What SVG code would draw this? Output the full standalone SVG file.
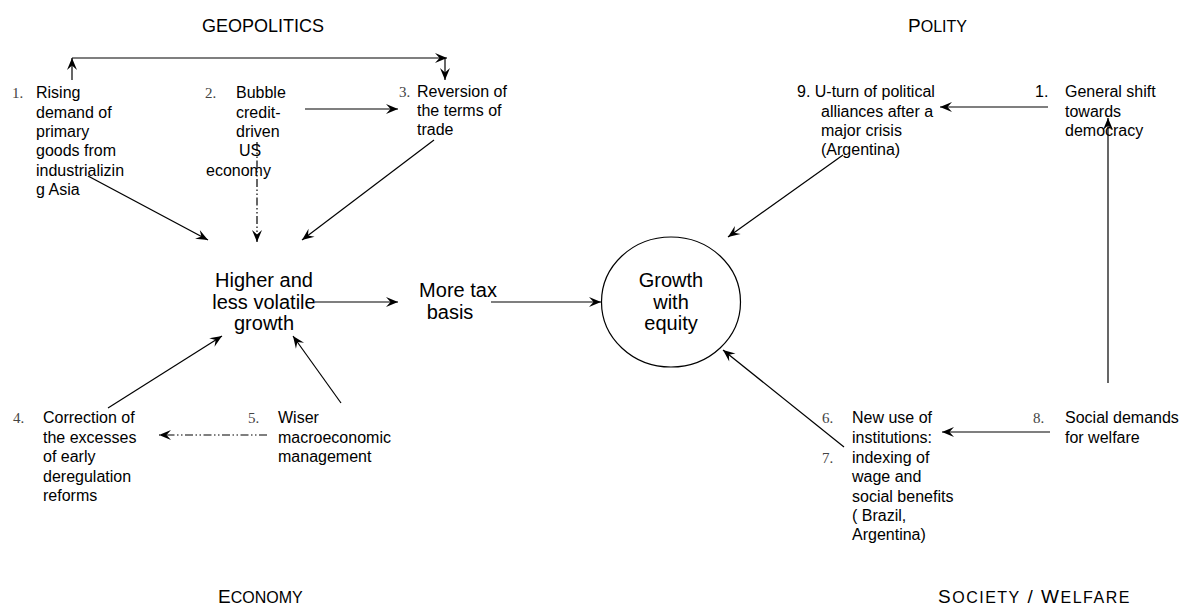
<svg xmlns="http://www.w3.org/2000/svg" width="1186" height="612" viewBox="0 0 1186 612">
  <style>
    .t { font-family: "Liberation Sans", Arial, sans-serif; font-size: 16px; fill: #000; }
    .c { font-family: "Liberation Sans", Arial, sans-serif; font-size: 20px; fill: #000; text-anchor: middle; }
    .n { font-family: "Liberation Serif", "Times New Roman", serif; font-size: 15px; fill: #444; }
    .h { font-family: "Liberation Sans", Arial, sans-serif; font-size: 18px; fill: #000; }
    .hs { font-family: "Liberation Sans", Arial, sans-serif; font-size: 19px; fill: #000; }
    .sc { font-size: 16px; }
    .ln { fill: none; stroke: #000; stroke-width: 1.2; }
    .dd { stroke-dasharray: 8 2.5 1.5 2.5 1.5 2.5; }
  </style>
  <defs>
    <marker id="ah" markerUnits="userSpaceOnUse" markerWidth="14" markerHeight="12" viewBox="-13 -6 14 12" refX="0" refY="0" orient="auto">
      <path d="M0,0 L-12,-5 L-7.5,0 L-12,5 Z" fill="#000"/>
    </marker>
  </defs>
  <rect width="1186" height="612" fill="#fff"/>

  <!-- section headings -->
  <g id="headings">
    <text class="h" x="202" y="32">GEOPOLITICS</text>
    <text class="hs" x="908" y="32">P<tspan class="sc">OLITY</tspan></text>
    <text class="hs" x="218" y="603">E<tspan class="sc">CONOMY</tspan></text>
    <text class="hs" x="938" y="603" letter-spacing="1.5">S<tspan class="sc">OCIETY</tspan> / W<tspan class="sc">ELFARE</tspan></text>
  </g>

  <!-- connectors -->
  <g id="connectors">
    <!-- 1 -> 3 over the top -->
    <path class="ln" d="M72,80 L72,58" marker-end="url(#ah)"/>
    <path class="ln" d="M72,58 L447,58" marker-end="url(#ah)"/>
    <path class="ln" d="M445,58 L445,80" marker-end="url(#ah)"/>
    <!-- 2 -> 3 -->
    <path class="ln" d="M305,109 L398,109" marker-end="url(#ah)"/>
    <!-- into growth -->
    <path class="ln" d="M88,176 L208,240" marker-end="url(#ah)"/>
    <path class="ln dd" d="M257,142 L257,242" marker-end="url(#ah)"/>
    <path class="ln" d="M434,140 L302,240" marker-end="url(#ah)"/>
    <path class="ln" d="M108,408 L222,336" marker-end="url(#ah)"/>
    <path class="ln" d="M341,403 L293,336" marker-end="url(#ah)"/>
    <!-- 5 -> 4 -->
    <path class="ln dd" d="M267,435 L159,435" marker-end="url(#ah)"/>
    <!-- growth -> tax -> equity -->
    <path class="ln" d="M315,302 L398,302" marker-end="url(#ah)"/>
    <path class="ln" d="M491,302 L601,302" marker-end="url(#ah)"/>
    <!-- polity side -->
    <path class="ln" d="M1048,107 L940,107" marker-end="url(#ah)"/>
    <path class="ln" d="M843,155 L728,237" marker-end="url(#ah)"/>
    <path class="ln" d="M1108,383 L1108,118" marker-end="url(#ah)"/>
    <!-- society side -->
    <path class="ln" d="M1050,432 L942,432" marker-end="url(#ah)"/>
    <path class="ln" d="M844,447 L723,350" marker-end="url(#ah)"/>
  </g>

  <g id="n1">
    <text class="n" x="12" y="98">1.</text>
    <text class="t" x="36" y="98">Rising</text>
    <text class="t" x="36" y="118">demand of</text>
    <text class="t" x="36" y="137">primary</text>
    <text class="t" x="36" y="156">goods from</text>
    <text class="t" x="36" y="176">industrializin</text>
    <text class="t" x="36" y="195">g Asia</text>
  </g>
  <g id="n2">
    <text class="n" x="205" y="98">2.</text>
    <text class="t" x="236" y="98">Bubble</text>
    <text class="t" x="236" y="118">credit-</text>
    <text class="t" x="236" y="137">driven</text>
    <text class="t" x="239" y="156">US</text>
    <text class="t" x="206" y="176">economy</text>
  </g>
  <g id="n3">
    <text class="n" x="399" y="97">3.</text>
    <text class="t" x="417" y="97">Reversion of</text>
    <text class="t" x="417" y="116">the terms of</text>
    <text class="t" x="417" y="135">trade</text>
  </g>
  <g id="growth">
    <text class="c" x="264" y="287">Higher and</text>
    <text class="c" x="264" y="309">less volatile</text>
    <text class="c" x="264" y="330">growth</text>
  </g>
  <g id="tax">
    <text class="c" x="458" y="297">More tax</text>
    <text class="c" x="450" y="319">basis</text>
  </g>
  <g id="equity">
    <ellipse cx="671" cy="302" rx="69.5" ry="65" fill="none" stroke="#000" stroke-width="1.2"/>
    <text class="c" x="671" y="287">Growth</text>
    <text class="c" x="671" y="309">with</text>
    <text class="c" x="671" y="330">equity</text>
  </g>
  <g id="n4">
    <text class="n" x="13" y="423">4.</text>
    <text class="t" x="43" y="423">Correction of</text>
    <text class="t" x="43" y="443">the excesses</text>
    <text class="t" x="43" y="462">of early</text>
    <text class="t" x="43" y="482">deregulation</text>
    <text class="t" x="43" y="501">reforms</text>
  </g>
  <g id="n5">
    <text class="n" x="248" y="423">5.</text>
    <text class="t" x="278" y="423">Wiser</text>
    <text class="t" x="278" y="443">macroeconomic</text>
    <text class="t" x="278" y="462">management</text>
  </g>
  <g id="n9">
    <text class="t" x="797" y="97">9. U-turn of political</text>
    <text class="t" x="821" y="117">alliances after a</text>
    <text class="t" x="821" y="136">major crisis</text>
    <text class="t" x="821" y="155">(Argentina)</text>
  </g>
  <g id="p1">
    <text class="t" x="1035" y="97">1.</text>
    <text class="t" x="1065" y="97">General shift</text>
    <text class="t" x="1065" y="117">towards</text>
    <text class="t" x="1065" y="136">democracy</text>
  </g>
  <g id="n67">
    <text class="n" x="822" y="423">6.</text>
    <text class="n" x="822" y="463">7.</text>
    <text class="t" x="852" y="423">New use of</text>
    <text class="t" x="852" y="443">institutions:</text>
    <text class="t" x="852" y="463">indexing of</text>
    <text class="t" x="852" y="482">wage and</text>
    <text class="t" x="852" y="502">social benefits</text>
    <text class="t" x="852" y="521">( Brazil,</text>
    <text class="t" x="852" y="540">Argentina)</text>
  </g>
  <g id="n8">
    <text class="n" x="1033" y="423">8.</text>
    <text class="t" x="1065" y="423">Social demands</text>
    <text class="t" x="1065" y="443">for welfare</text>
  </g>
</svg>
